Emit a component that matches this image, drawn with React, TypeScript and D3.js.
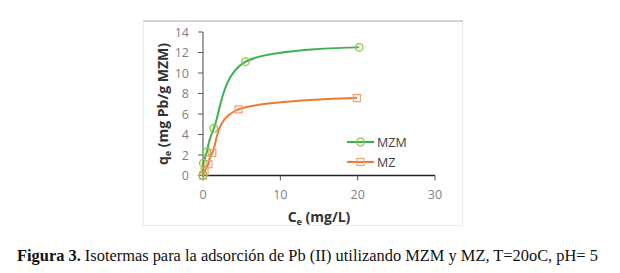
import React from "react";
import * as d3 from "d3";

const xTicks = [0, 10, 20, 30];
const yTicks = [0, 2, 4, 6, 8, 10, 12, 14];
const mzmX = [0, 0.05, 0.5, 1.4, 5.5, 20.2];
const mzmY = [0, 1.2, 2.3, 4.6, 11.1, 12.5];
const mzX = [0, 0.2, 0.7, 1.2, 4.6, 19.9];
const mzY = [0, 0.4, 1.1, 2.2, 6.45, 7.55];
const seriesNames = ["MZM", "MZ"];
const seriesColors = ["#3cb054", "#f07830"];

export default function App() {
  const W = 620, H = 273;
  const x = d3.scaleLinear().domain([0, 30]).range([203, 435]);
  const y = d3.scaleLinear().domain([0, 14]).range([175.5, 32]);
  const line = d3
    .line<[number, number]>()
    .x((d) => x(d[0]))
    .y((d) => y(d[1]))
    .curve(d3.curveCatmullRom.alpha(0));
  const mzm: [number, number][] = mzmX.map((v, i) => [v, mzmY[i]]);
  const mz: [number, number][] = mzX.map((v, i) => [v, mzY[i]]);
  const tickColor = "#7f7f7f";
  const font = "'Open Sans', 'DejaVu Sans', sans-serif";
  return (
    <svg
      width={W}
      height={H}
      style={{ position: "absolute", left: 0, top: 0, background: "#fff" }}
    >
      {/* frame */}
      <rect x={143.5} y={21.5} width={319} height={204} fill="#fff" stroke="#ececec" strokeWidth={1} />
      <line x1={143} x2={463} y1={21} y2={21} stroke="#d4d4d4" strokeWidth={2} />
      {/* axes */}
      <line x1={x(0)} x2={x(0)} y1={y(14)} y2={y(0)} stroke="#444" strokeWidth={1} />
      <line x1={x(0)} x2={x(30)} y1={y(0)} y2={y(0)} stroke="#222" strokeWidth={1.5} />
      {yTicks.map((t) => (
        <g key={"y" + t}>
          <line x1={x(0) - 5} x2={x(0)} y1={y(t)} y2={y(t)} stroke="#555" />
          <text
            x={189}
            y={y(t)}
            textAnchor="end"
            dominantBaseline="central"
            fontFamily={font}
            fontSize={12.5}
            fill={tickColor}
          >
            {t}
          </text>
        </g>
      ))}
      {xTicks.map((t) => (
        <g key={"x" + t}>
          <line x1={x(t)} x2={x(t)} y1={y(0)} y2={y(0) + 5} stroke="#555" />
          <text
            x={x(t)}
            y={194}
            textAnchor="middle"
            dominantBaseline="central"
            fontFamily={font}
            fontSize={12.5}
            fill={tickColor}
          >
            {t}
          </text>
        </g>
      ))}
      {/* axis titles */}
      <text
        x={319}
        y={222}
        textAnchor="middle"
        fontFamily={font}
        fontSize={14}
        fontWeight="bold"
        fill="#333"
      >
        C<tspan fontSize={9} dy={3}>e</tspan>
        <tspan dy={-3}> (mg/L)</tspan>
      </text>
      <text
        transform="translate(168,104) rotate(-90)"
        textAnchor="middle"
        fontFamily={font}
        fontSize={14}
        fontWeight="bold"
        fill="#333"
      >
        q<tspan fontSize={9} dy={3}>e</tspan>
        <tspan dy={-3}> (mg Pb/g MZM)</tspan>
      </text>
      {/* series */}
      <path d={line(mz) || ""} fill="none" stroke={seriesColors[1]} strokeWidth={2} />
      <path d={line(mzm) || ""} fill="none" stroke={seriesColors[0]} strokeWidth={2} />
      {mz.map((d, i) => (
        <rect
          key={"s" + i}
          x={x(d[0]) - 3.5}
          y={y(d[1]) - 3.5}
          width={7}
          height={7}
          fill="none"
          stroke="#f5a070"
          strokeWidth={1.2}
        />
      ))}
      {mzm.map((d, i) => (
        <circle
          key={"c" + i}
          cx={x(d[0])}
          cy={y(d[1])}
          r={3.8}
          fill="none"
          stroke="#8cc63f"
          strokeWidth={1.3}
        />
      ))}
      {/* legend */}
      {seriesNames.map((n, i) => {
        const ly = 142 + i * 20;
        return (
          <g key={n}>
            <line x1={347} x2={374} y1={ly} y2={ly} stroke={seriesColors[i]} strokeWidth={2} />
            {i === 0 ? (
              <circle cx={360.5} cy={ly} r={3.8} fill="none" stroke="#8cc63f" strokeWidth={1.3} />
            ) : (
              <rect x={357} y={ly - 3.5} width={7} height={7} fill="none" stroke="#f5a070" strokeWidth={1.2} />
            )}
            <text
              x={377}
              y={ly}
              dominantBaseline="central"
              fontFamily={font}
              fontSize={12.5}
              fill="#404040"
            >
              {n}
            </text>
          </g>
        );
      })}
      {/* caption */}
      <text x={17} y={261} fontFamily="'Liberation Serif', 'Times New Roman', serif" fontSize={16.4} fill="#111">
        <tspan fontWeight="bold">Figura 3.</tspan>
        <tspan> Isotermas para la adsorción de Pb (II) utilizando MZM y MZ, T=20oC, pH= 5</tspan>
      </text>
    </svg>
  );
}
